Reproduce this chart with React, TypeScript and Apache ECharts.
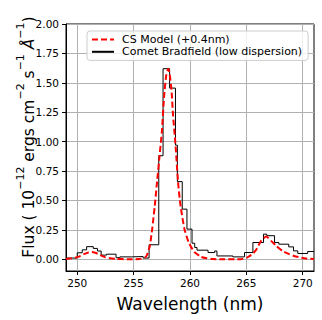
import React, { useEffect, useRef } from "react";
import * as echarts from "echarts";

// Observed histogram (left bin edges, last entry = right edge of last bin)
const histEdges = [
  249.0, 250.0, 250.44, 250.83, 251.42, 251.79, 252.12, 252.6, 253.44, 253.78,
  254.81, 255.84, 256.37, 257.23, 257.61, 258.19, 258.71, 258.88, 259.31, 259.73,
  260.18, 260.42, 260.62, 261.6, 262.19, 262.39, 263.8, 264.84, 265.58, 266.52,
  266.81, 267.5, 267.88, 268.76, 269.18, 269.56, 270.44, 271.0,
];
const histFlux = [
  0.01, 0.055, 0.08, 0.107, 0.092, 0.07, 0.035, 0.043, 0.013, 0.02,
  0.023, 0.01, 0.123, 0.88, 1.62, 1.455, 0.97, 0.66, 0.426, 0.256,
  0.136, 0.1, 0.077, 0.057, 0.07, 0.028, 0.02, 0.057, 0.142, 0.213,
  0.2, 0.142, 0.128, 0.105, 0.071, 0.049, 0.066,
];

// CS model curve
const modelWave = [
  249.0, 249.5, 250.0, 250.3, 250.7, 251.0, 251.3, 251.6, 251.9, 252.2,
  252.5, 252.9, 253.5, 254.5, 255.5, 256.0, 256.2, 256.43, 256.65, 256.87,
  257.1, 257.3, 257.5, 257.7, 257.9, 258.08, 258.2, 258.35, 258.5, 258.7,
  258.94, 259.1, 259.2, 259.5, 259.9, 260.4, 261.0, 261.5, 262.0, 263.0,
  264.5, 265.0, 265.3, 265.6, 265.9, 266.3, 266.76, 267.2, 267.65, 268.2,
  268.8, 269.4, 270.3, 271.0,
];
const modelFlux = [
  0.003, 0.008, 0.018, 0.03, 0.048, 0.058, 0.062, 0.055, 0.042, 0.028,
  0.016, 0.008, 0.003, 0.0, 0.002, 0.014, 0.04, 0.11, 0.26, 0.45,
  0.68, 0.88, 1.08, 1.38, 1.57, 1.62, 1.57, 1.45, 1.22, 0.99,
  0.66, 0.5, 0.43, 0.26, 0.14, 0.06, 0.02, 0.008, 0.002, 0.0,
  0.0, 0.012, 0.028, 0.05, 0.085, 0.156, 0.193, 0.156, 0.113, 0.071,
  0.043, 0.023, 0.006, 0.002,
];

const xTickValues = [250, 255, 260, 265, 270];
const yTickValues = [0, 0.25, 0.5, 0.75, 1.0, 1.25, 1.5, 1.75, 2.0];

const modelName = "CS Model (+0.4nm)";
const cometName = "Comet Bradfield (low dispersion)";

const FONT = "DejaVu Sans";

export default function App() {
  const ref = useRef<HTMLDivElement>(null);

  useEffect(() => {
    if (!ref.current) return;
    const chart = echarts.init(ref.current, null, { renderer: "svg" });

    const histData = histEdges.map((x, i) => [
      x,
      histFlux[Math.min(i, histFlux.length - 1)],
    ]);
    const modelData = modelWave.map((x, i) => [x, modelFlux[i]]);

    const axisText = { color: "#000", fontFamily: FONT, fontSize: 10.5 };

    chart.setOption({
      animation: false,
      backgroundColor: "#fff",
      grid: {
        left: 66,
        right: 8,
        top: 24,
        bottom: 49,
        show: true,
        borderColor: "#000",
        borderWidth: 1,
        backgroundColor: "transparent",
        outerBoundsMode: "none",
        containLabel: false,
      },
      legend: {
        orient: "vertical",
        left: 87,
        top: 31,
        padding: [3, 6, 3, 4],
        itemWidth: 22,
        itemHeight: 14,
        itemGap: 1,
        backgroundColor: "rgba(255,255,255,0.8)",
        borderColor: "#cccccc",
        borderWidth: 1,
        borderRadius: 3,
        itemStyle: { opacity: 0 },
        textStyle: {
          color: "#000",
          fontFamily: FONT,
          fontSize: 11,
          padding: [0, 0, 0, 3],
        },
        data: [modelName, cometName],
      },
      xAxis: {
        type: "value",
        min: 249,
        max: 271,
        minInterval: 5,
        maxInterval: 5,
        name: "Wavelength (nm)",
        nameLocation: "middle",
        nameGap: 24,
        nameTextStyle: { color: "#000", fontFamily: FONT, fontSize: 17 },
        axisLine: { show: true, onZero: false, lineStyle: { color: "#000", width: 1 } },
        axisTick: {
          show: true,
          inside: false,
          length: 4,
          customValues: xTickValues,
          lineStyle: { color: "#000", width: 1 },
        },
        axisLabel: {
          ...axisText,
          margin: 6,
          customValues: xTickValues,
        },
        splitLine: { show: true, lineStyle: { color: "#b0b0b0", width: 1 } },
      },
      yAxis: {
        type: "value",
        min: -0.1,
        max: 2.0,
        minInterval: 0.25,
        maxInterval: 0.25,
        axisLine: { show: true, onZero: false, lineStyle: { color: "#000", width: 1 } },
        axisTick: {
          show: true,
          inside: false,
          length: 4,
          customValues: yTickValues,
          lineStyle: { color: "#000", width: 1 },
        },
        axisLabel: {
          ...axisText,
          margin: 7,
          customValues: yTickValues,
          formatter: (v: number) => v.toFixed(2),
        },
        splitLine: { show: true, lineStyle: { color: "#b0b0b0", width: 1 } },
      },
      graphic: [
        {
          type: "text",
          x: 26,
          y: 137,
          rotation: Math.PI / 2,
          style: {
            text:
              "{m|Flux ( 10}{s|−12}{m| ergs cm}{s|−2}{m| s}{s|−1}{i| Å}{s|−1}{m|)}",
            align: "center",
            verticalAlign: "middle",
            fill: "#000",
            rich: {
              m: {
                fontFamily: FONT,
                fontSize: 15.5,
                lineHeight: 22,
                verticalAlign: "bottom",
                fill: "#000",
              },
              i: {
                fontFamily: FONT,
                fontSize: 15.5,
                fontStyle: "italic",
                lineHeight: 22,
                verticalAlign: "bottom",
                fill: "#000",
              },
              s: {
                fontFamily: FONT,
                fontSize: 11,
                lineHeight: 9,
                verticalAlign: "top",
                fill: "#000",
              },
            },
          },
        },
      ],
      series: [
        {
          name: modelName,
          type: "line",
          data: modelData,
          symbol: "none",
          smooth: 0.2,
          z: 3,
          lineStyle: { color: "#ff0000", width: 2, type: [6, 3] },
          itemStyle: { color: "#ff0000" },
        },
        {
          name: cometName,
          type: "line",
          data: histData,
          step: "end",
          symbol: "none",
          z: 2,
          lineStyle: { color: "#000", width: 1 },
          itemStyle: { color: "#000" },
        },
      ],
    });

    return () => chart.dispose();
  }, []);

  return (
    <div
      ref={ref}
      style={{ position: "fixed", left: 0, top: 0, width: 322, height: 320 }}
    />
  );
}
